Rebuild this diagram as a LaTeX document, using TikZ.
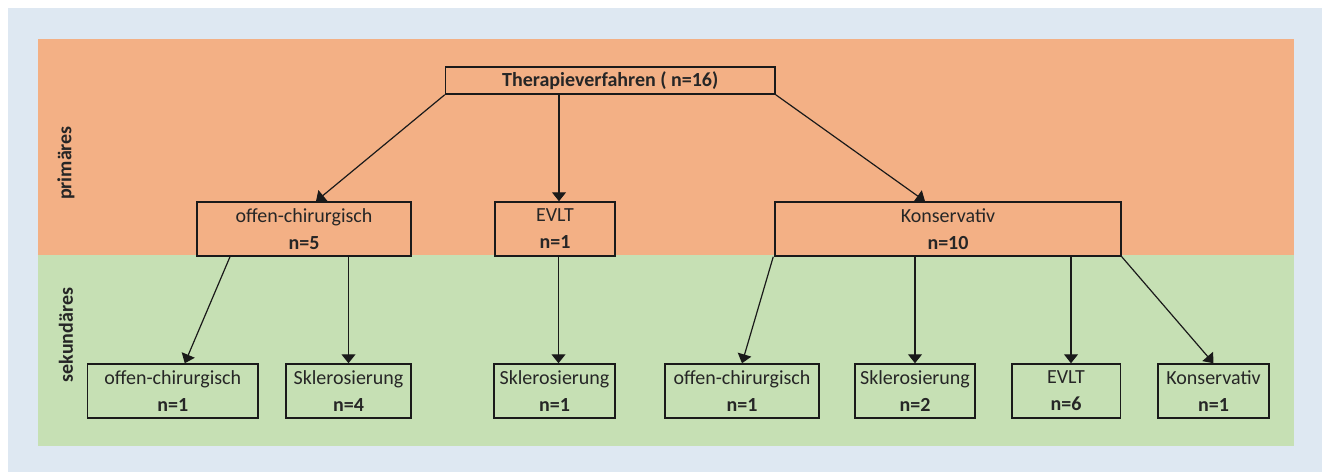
\documentclass[tikz,border=0pt]{standalone}
\usepackage{fontspec}
\setmainfont{Carlito}
\usetikzlibrary{arrows.meta}
\definecolor{outerbg}{HTML}{DEE8F2}
\definecolor{primbg}{HTML}{F3B085}
\definecolor{sekbg}{HTML}{C6E0B4}
\definecolor{boxline}{HTML}{1A1A1A}
\tikzstyle{topbox} = [rectangle, minimum width=329.5pt, minimum height=27pt, inner sep=0pt, text centered, draw=boxline, line width=1.5pt, font=\fontsize{20}{27}\selectfont\bfseries]
\tikzstyle{casebox} = [rectangle, minimum height=54pt, inner sep=0pt, align=center, draw=boxline, line width=1.5pt, font=\fontsize{20}{27}\selectfont]
\tikzstyle{sidelabel} = [rotate=90, inner sep=0pt, font=\fontsize{20}{24}\selectfont\bfseries]
\tikzstyle{arrow} = [line width=1.2pt, draw=boxline, -{Triangle[length=9pt,width=14pt]}]

\begin{document}
\begin{tikzpicture}[x=1pt, y=1pt, text=black!85]
    \useasboundingbox (0,0) rectangle (1322,-472);
    % bands
    \fill[outerbg] (8,-8) rectangle (1322,-472);
    \fill[primbg] (38,-39) rectangle (1294,-255);
    \fill[sekbg] (38,-255) rectangle (1294,-446);
    \node (prim) [sidelabel] at (66,-163) {primäres};
    \node (sek)  [sidelabel] at (66,-335) {sekundäres};

    % primary level
    \node (top)    [topbox] at (610.25,-80.5) {Therapieverfahren ( n=16)};
    \node (offen)  [casebox, minimum width=214pt] at (304,-229) {offen-chirurgisch\\\textbf{n=5}};
    \node (evlt)   [casebox, minimum width=120pt] at (555,-229) {EVLT\\\textbf{n=1}};
    \node (kons)   [casebox, minimum width=346pt] at (948,-229) {Konservativ\\\textbf{n=10}};

    % secondary level
    \node (offenA) [casebox, minimum width=170.5pt] at (172.75,-391) {offen-chirurgisch\\\textbf{n=1}};
    \node (sklerA) [casebox, minimum width=125pt] at (348.5,-391) {Sklerosierung\\\textbf{n=4}};
    \node (sklerB) [casebox, minimum width=121pt] at (554.5,-391) {Sklerosierung\\\textbf{n=1}};
    \node (offenB) [casebox, minimum width=154pt] at (742,-391) {offen-chirurgisch\\\textbf{n=1}};
    \node (sklerC) [casebox, minimum width=120pt] at (915,-391) {Sklerosierung\\\textbf{n=2}};
    \node (evltB)  [casebox, minimum width=108.5pt] at (1066,-391) {EVLT\\\textbf{n=6}};
    \node (konsB)  [casebox, minimum width=111pt] at (1213.5,-391) {Konservativ\\\textbf{n=1}};

    % connectors
    \draw [arrow] (top.south west) -- ([xshift=12pt]offen.north);
    \draw [arrow] ([xshift=4pt]evlt.north |- top.south) -- ([xshift=4pt]evlt.north);
    \draw [arrow] (top.south east) -- ([xshift=-23pt]kons.north);
    \draw [arrow] ([xshift=-74pt]offen.south) -- ([xshift=12pt]offenA.north);
    \draw [arrow] (sklerA.north |- offen.south) -- (sklerA.north);
    \draw [arrow] ([xshift=4pt]sklerB.north |- evlt.south) -- ([xshift=4pt]sklerB.north);
    \draw [arrow] ([xshift=-1pt]kons.south west) -- (offenB.north);
    \draw [arrow] (sklerC.north |- kons.south) -- (sklerC.north);
    \draw [arrow] ([xshift=5pt]evltB.north |- kons.south) -- ([xshift=5pt]evltB.north);
    \draw [arrow] (kons.south east) -- (konsB.north);
\end{tikzpicture}
\end{document}
